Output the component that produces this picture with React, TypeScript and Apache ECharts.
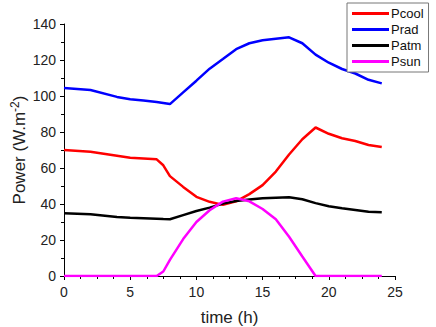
import React, { useEffect, useRef } from "react";
import * as echarts from "echarts";

const times = [0, 2, 4, 5, 6, 7, 7.5, 8, 9, 10, 11, 12, 13, 14, 15, 16, 17, 18, 19, 20, 21, 22, 23, 24];
const pcool = [70, 69, 66.8, 65.7, 65.3, 64.8, 61.5, 55.5, 49.5, 44, 41.2, 39.5, 41.5, 45.5, 50.5, 58, 67.5, 76, 82.5, 79, 76.5, 75, 72.8, 71.7];
const prad = [104.5, 103.3, 99.5, 98.2, 97.5, 96.7, 96.1, 95.5, 102, 108.5, 115.2, 120.5, 126, 129.3, 131, 131.8, 132.6, 129.3, 123, 118.5, 115, 112.5, 109, 107];
const patm = [34.8, 34.3, 32.8, 32.4, 32.1, 31.8, 31.6, 31.5, 33.8, 36.1, 38, 40.2, 41.7, 42.5, 43.2, 43.5, 43.7, 42.6, 40.5, 38.8, 37.7, 36.7, 35.7, 35.4];
const psun = [0, 0, 0, 0, 0, 0, 2.5, 9, 20.5, 30, 36.5, 41.3, 43.2, 41.5, 37.2, 31.5, 21.8, 10.8, 0, 0, 0, 0, 0, 0];
const seriesNames = ["Pcool", "Prad", "Patm", "Psun"];
const seriesColors = ["#ff0000", "#0000ff", "#000000", "#ff00ff"];

export default function App() {
  const ref = useRef<HTMLDivElement>(null);
  useEffect(() => {
    document.body.style.margin = "0";
    const chart = echarts.init(ref.current!, null, { renderer: "svg" });
    const all = [pcool, prad, patm, psun];
    const font = "Liberation Sans, Arial, Helvetica, sans-serif";
    chart.setOption({
      animation: false,
      backgroundColor: "#ffffff",
      grid: { left: 64, top: 24, right: 41, bottom: 51, containLabel: false, outerBoundsMode: "none" },
      legend: {
        data: seriesNames,
        orient: "vertical",
        left: 347,
        top: 3,
        icon: "rect",
        itemWidth: 37,
        itemHeight: 3,
        itemGap: 3,
        padding: [4, 5, 4, 5],
        borderColor: "#777",
        borderWidth: 1,
        backgroundColor: "#fff",
        textStyle: { fontFamily: font, fontSize: 13, color: "#111", padding: [0, 0, 0, -3] },
      },
      xAxis: {
        type: "value",
        min: 0,
        max: 25,
        interval: 5,
        name: "time (h)",
        nameLocation: "middle",
        nameGap: 33,
        nameMoveOverlap: false,
        nameTextStyle: { fontFamily: font, fontSize: 17, color: "#222" },
        axisLine: { lineStyle: { color: "#000", width: 1 } },
        axisTick: { length: 4, lineStyle: { color: "#000" } },
        minorTick: { show: true, splitNumber: 4, length: 3, lineStyle: { color: "#000" } },
        axisLabel: { fontFamily: font, fontSize: 14, color: "#222", margin: 9 },
        splitLine: { show: false },
      },
      yAxis: {
        type: "value",
        min: 0,
        max: 140,
        interval: 20,
        name: "{a|Power (W.m}{s|-2}{a|)}",
        nameLocation: "middle",
        nameGap: 35,
        nameRotate: 90,
        nameMoveOverlap: false,
        nameTextStyle: {
          fontFamily: font,
          color: "#222",
          rich: {
            a: { fontFamily: font, fontSize: 17, color: "#222" },
            s: { fontFamily: font, fontSize: 12, color: "#222", verticalAlign: "top", padding: [0, 0, 8, 0] },
          },
        },
        axisLine: { show: true, lineStyle: { color: "#000", width: 1 } },
        axisTick: { show: true, length: 4, lineStyle: { color: "#000" } },
        minorTick: { show: true, splitNumber: 2, length: 3, lineStyle: { color: "#000" } },
        axisLabel: { fontFamily: font, fontSize: 14, color: "#222", margin: 8 },
        splitLine: { show: false },
      },
      series: seriesNames.map((n, i) => ({
        name: n,
        type: "line",
        data: times.map((t, j) => [t, all[i][j]]),
        showSymbol: false,
        symbol: "none",
        lineStyle: { color: seriesColors[i], width: 2.5 },
        itemStyle: { color: seriesColors[i] },
      })),
    });
    return () => chart.dispose();
  }, []);
  return <div ref={ref} style={{ width: 436, height: 327 }} />;
}
